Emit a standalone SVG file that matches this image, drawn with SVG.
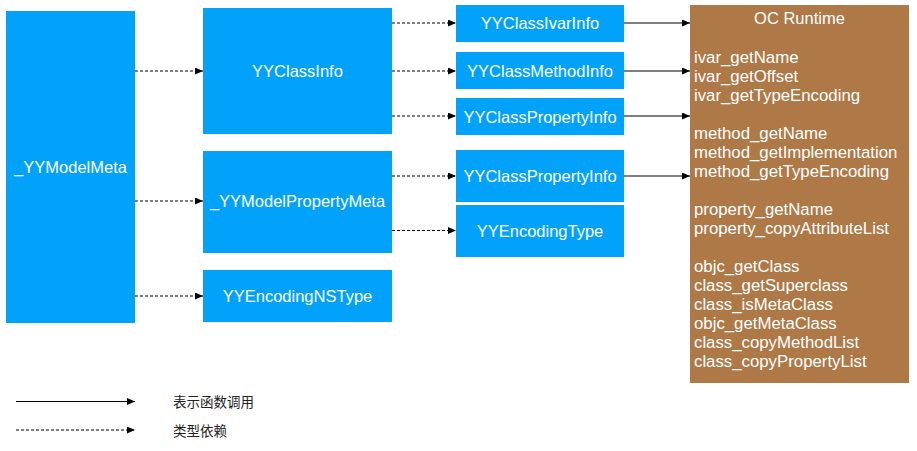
<svg xmlns="http://www.w3.org/2000/svg" width="917" height="451" viewBox="0 0 917 451">
<defs>
<style>
.b{fill:#02A2FB}
.r{fill:#AE7947}
.t{font-family:"Liberation Sans",Arial,sans-serif;font-size:16.5px;fill:#fff;text-anchor:middle}
.l{font-family:"Liberation Sans",Arial,sans-serif;font-size:16.8px;fill:#fff}
.g{font-family:"Noto Sans CJK SC","Liberation Sans",sans-serif;font-size:13.5px;fill:#222}
.s{stroke:#000;stroke-width:1.2;fill:none;marker-end:url(#ah)}
.d{stroke:#000;stroke-width:1.2;fill:none;stroke-dasharray:3 2;marker-end:url(#ah)}
</style>
<marker id="ah" markerUnits="userSpaceOnUse" markerWidth="9" markerHeight="8" refX="8" refY="3.5" orient="auto">
<path d="M0,0 L8,3.5 L0,7 z" fill="#000"/>
</marker>
</defs>
<g id="n-modelmeta"><rect class="b" x="6" y="11" width="129" height="312"/><text class="t" x="70.5" y="173">_YYModelMeta</text></g>
<g id="n-classinfo"><rect class="b" x="203" y="8" width="189" height="126"/><text class="t" x="297.5" y="76.5">YYClassInfo</text></g>
<g id="n-propmeta"><rect class="b" x="203" y="151" width="189" height="102"/><text class="t" x="297.5" y="207">_YYModelPropertyMeta</text></g>
<g id="n-nstype"><rect class="b" x="203" y="270" width="189" height="52"/><text class="t" x="297.5" y="302">YYEncodingNSType</text></g>
<g id="n-ivar"><rect class="b" x="456" y="5" width="168" height="37"/><text class="t" x="540" y="29">YYClassIvarInfo</text></g>
<g id="n-method"><rect class="b" x="456" y="52" width="168" height="37"/><text class="t" x="540" y="76.5">YYClassMethodInfo</text></g>
<g id="n-prop1"><rect class="b" x="456" y="98" width="168" height="37"/><text class="t" x="540" y="122.5">YYClassPropertyInfo</text></g>
<g id="n-prop2"><rect class="b" x="456" y="150" width="168" height="52"/><text class="t" x="540" y="182">YYClassPropertyInfo</text></g>
<g id="n-enctype"><rect class="b" x="456" y="205" width="168" height="52"/><text class="t" x="540" y="236.5">YYEncodingType</text></g>
<g id="n-runtime"><rect class="r" x="690" y="5" width="219" height="378"/>
<text class="t" x="799.5" y="24">OC Runtime</text>
<text class="l" x="694" y="62.5">ivar_getName</text>
<text class="l" x="694" y="81.5">ivar_getOffset</text>
<text class="l" x="694" y="100.5">ivar_getTypeEncoding</text>
<text class="l" x="694" y="138.5">method_getName</text>
<text class="l" x="694" y="157.5">method_getImplementation</text>
<text class="l" x="694" y="176.5">method_getTypeEncoding</text>
<text class="l" x="694" y="214.5">property_getName</text>
<text class="l" x="694" y="233.5">property_copyAttributeList</text>
<text class="l" x="694" y="271.5">objc_getClass</text>
<text class="l" x="694" y="290.5">class_getSuperclass</text>
<text class="l" x="694" y="309.5">class_isMetaClass</text>
<text class="l" x="694" y="328.5">objc_getMetaClass</text>
<text class="l" x="694" y="347.5">class_copyMethodList</text>
<text class="l" x="694" y="366.5">class_copyPropertyList</text>
</g>
<g id="connectors">
<path class="d" d="M135,71 H203"/>
<path class="d" d="M135,201 H203"/>
<path class="d" d="M135,296 H203"/>
<path class="d" d="M392,23 H456"/>
<path class="d" d="M392,71 H456"/>
<path class="d" d="M392,116 H456"/>
<path class="d" d="M392,176 H456"/>
<path class="d" d="M392,230.5 H456"/>
<path class="s" d="M624,23 H690"/>
<path class="s" d="M624,71 H690"/>
<path class="s" d="M624,116 H690"/>
<path class="s" d="M624,176 H690"/>
</g>
<g id="legend">
<path class="s" d="M16,401.5 H135"/>
<path class="d" d="M16,430 H135"/>
<text class="g" x="173" y="407">表示函数调用</text>
<text class="g" x="173" y="435.5">类型依赖</text>
</g>
</svg>
